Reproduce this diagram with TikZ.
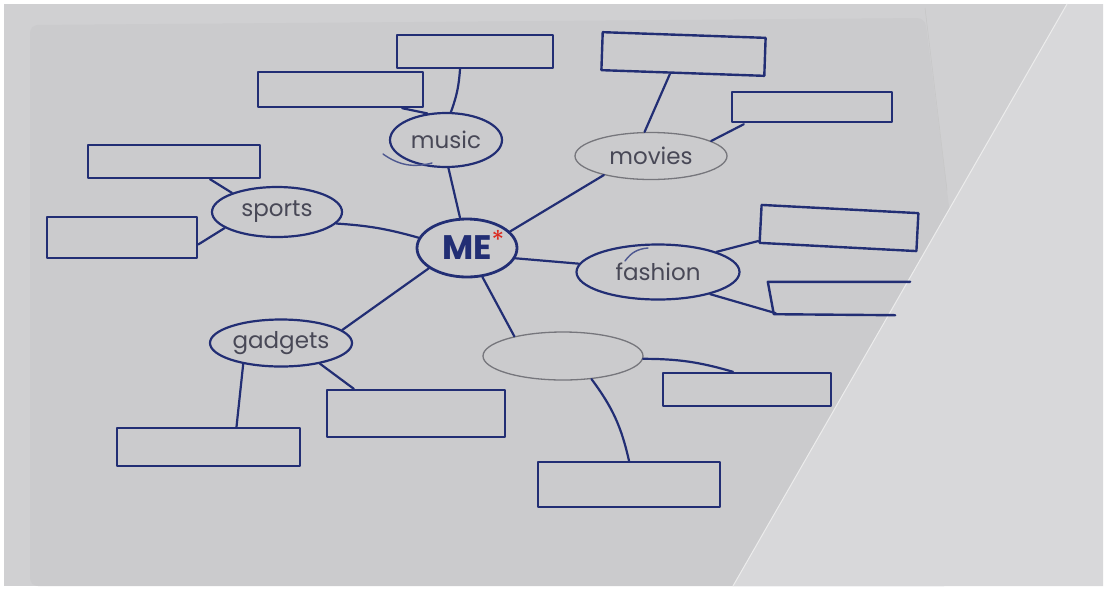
\documentclass[tikz,border=0pt]{standalone}
\usepackage{fontspec}
\setmainfont{Poppins}
\usetikzlibrary{shapes.geometric,calc}
\definecolor{ink}{RGB}{34,46,116}
\definecolor{penc}{RGB}{118,118,124}
\definecolor{lab}{RGB}{72,72,86}
\definecolor{paper}{RGB}{203,203,205}
\definecolor{outer}{RGB}{208,208,210}
\definecolor{sheet}{RGB}{216,216,218}
\definecolor{mered}{RGB}{220,40,30}
\begin{document}
\begin{tikzpicture}[x=1pt,y=-1pt,
  bub/.style={ellipse,draw=ink,line width=2.2pt,inner sep=0pt,text=lab,font=\fontsize{23}{25}\selectfont},
  gbub/.style={bub,draw=penc,line width=1.3pt},
  slot/.style={rectangle,draw=ink,line width=2.4pt,inner sep=0pt,line join=round},
  link/.style={draw=ink,line width=2.2pt,line cap=round}]
% background
\fill[white] (0,0) rectangle (1107,590);
\useasboundingbox (0,0) rectangle (1107,590);
\fill[outer] (4,4) rectangle (1103,586);
\fill[paper,rounded corners=8pt] (30,25) -- (925,18) -- (952,230) -- (952,586) -- (30,586) -- cycle;
\draw[gray!45,line width=0.5pt] (925,8) -- (947,190);
\fill[sheet] (1067,4) -- (1103,4) -- (1103,586) -- (733,586) -- cycle;
\draw[white!85!gray,line width=1pt] (1067,4) -- (733,586);

% central node
\node[ellipse,draw=ink,line width=2.8pt,inner sep=0pt,minimum width=100pt,minimum height=58pt,text=ink,font=\fontsize{34}{36}\selectfont\bfseries] (ME) at (467,248) {ME};
\node[text=mered,font=\fontsize{26}{26}\selectfont,inner sep=0pt] (star) at (498,240) {*};

% music
\node[bub,minimum width=112pt,minimum height=54pt] (music) at (446,140) {music};
\node[slot,minimum width=156pt,minimum height=33pt] (mb1) at (475,51.5) {};
\node[slot,minimum width=165pt,minimum height=35pt] (mb2) at (340.5,89.5) {};
\draw[link] (music.80) to[bend right=8] ($(mb1.south)+(-15,0)$);
\draw[link] (music.125) -- ($(mb2.south east)+(-22,0)$);
\draw[link] (music.-85) -- (ME.103);
\draw[ink!80,line width=1.4pt,line cap=round] ($(music.center)+(-63,14)$) to[bend right=25] ($(music.center)+(-14,23)$);

% movies
\node[gbub,minimum width=152pt,minimum height=47pt] (movies) at (651,156) {movies};
\node[slot,minimum width=163pt,minimum height=38pt,rotate=-2] (vb1) at (683.5,54) {};
\node[slot,minimum width=160pt,minimum height=30pt] (vb2) at (812,107) {};
\draw[link] ($(vb1.south)+(-13,0)$) -- (movies.105);
\draw[link] ($(vb2.south west)+(13,1)$) -- (movies.14);
\draw[link] (movies.202) -- (ME.21);

% sports
\node[bub,minimum width=130pt,minimum height=50pt] (sports) at (277,212) {sports};
\node[slot,minimum width=172pt,minimum height=33pt] (sb1) at (174,161.5) {};
\node[slot,minimum width=150pt,minimum height=41pt] (sb2) at (122,237.5) {};
\draw[link] ($(sb1.south)+(36,0)$) -- (sports.157);
\draw[link] ($(sb2.east)+(0,7)$) -- (sports.197);
\draw[link] (sports.-11) to[bend left=6] (ME.168);

% fashion
\node[bub,minimum width=163pt,minimum height=55pt] (fashion) at (658,272) {fashion};
\node[slot,minimum width=157pt,minimum height=38pt,rotate=-3] (fb1) at (839,228) {};
\node[minimum width=142pt,minimum height=32pt,inner sep=0pt] (fb2) at (839,298) {};
\draw[ink,line width=2.4pt,line join=round,line cap=round] (fb2.north east) -- (fb2.north west) -- ($(fb2.south west)+(6,0)$) -- ($(fb2.south east)+(-15,1)$);
\draw[link] (fashion.19) -- ($(fb1.south west)+(0,-3)$);
\draw[link] (fashion.-23) -- ($(fb2.south west)+(8,-1)$);
\draw[link] (ME.-12) -- (fashion.174);
\draw[ink!80,line width=1.4pt,line cap=round] ($(fashion.center)+(-33,-11)$) to[bend left=25] ($(fashion.center)+(-10,-24)$);

% gadgets
\node[bub,minimum width=142pt,minimum height=47pt] (gadgets) at (281,343) {gadgets};
\node[slot,minimum width=183pt,minimum height=38pt] (gb1) at (208.5,447) {};
\node[slot,minimum width=178pt,minimum height=47pt] (gb2) at (416,413.5) {};
\draw[link] (gadgets.-151) -- ($(gb1.north)+(28,0)$);
\draw[link] (gadgets.-28) -- ($(gb2.north west)+(28,0)$);
\draw[link] (gadgets.12) -- (ME.208);

% blank topic
\node[gbub,minimum width=160pt,minimum height=48pt] (blank) at (563,356) {};
\node[slot,minimum width=168pt,minimum height=33pt] (bb1) at (747,389.5) {};
\node[slot,minimum width=182pt,minimum height=45pt] (bb2) at (629,484.5) {};
\draw[link] (blank.-2) to[bend left=8] ($(bb1.north)+(-14,0)$);
\draw[link] (blank.-39) to[bend left=12] (bb2.north);
\draw[link] (ME.-62) -- (blank.158);
\end{tikzpicture}
\end{document}
